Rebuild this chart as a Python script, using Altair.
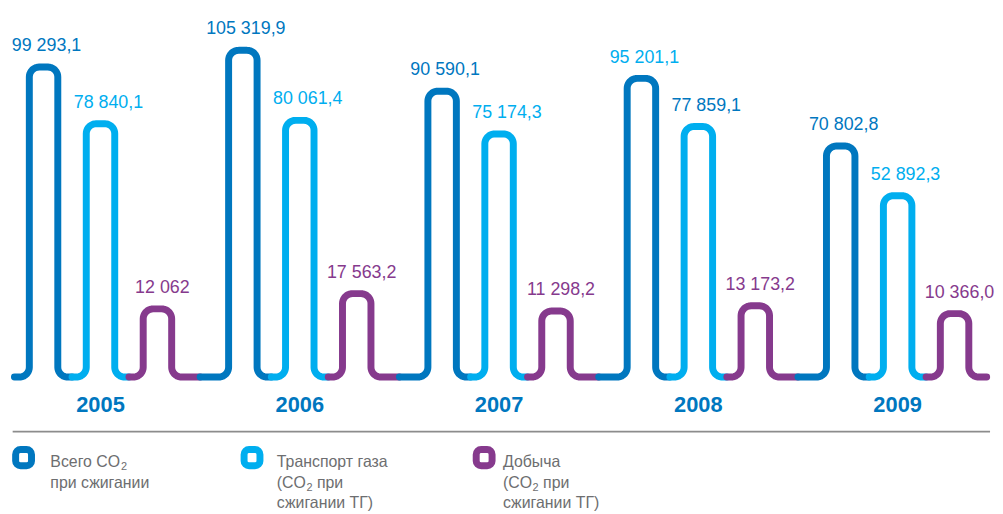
import math
import altair as alt
import pandas as pd

# ---------------- data ----------------
years = ["2005", "2006", "2007", "2008", "2009"]
series_keys = ["total", "transport", "production"]
total = [99293.1, 105319.9, 90590.1, 95201.1, 70802.8]
transport = [78840.1, 80061.4, 75174.3, 77859.1, 52892.3]
production = [12062.0, 17563.2, 11298.2, 13173.2, 10366.0]
labels_total = ["99 293,1", "105 319,9", "90 590,1", "95 201,1", "70 802,8"]
labels_transport = ["78 840,1", "80 061,4", "75 174,3", "77 859,1", "52 892,3"]
labels_production = ["12 062", "17 563,2", "11 298,2", "13 173,2", "10 366,0"]
# legend lines; "_2" marks a subscript 2
legend_lines = [
    ["Всего CO_2", "при сжигании"],
    ["Транспорт газа", "(CO_2 при", "сжигании ТГ)"],
    ["Добыча", "(CO_2 при", "сжигании ТГ)"],
]

values = {"total": total, "transport": transport, "production": production}
texts = {"total": labels_total, "transport": labels_transport, "production": labels_production}

# ---------------- style / layout ----------------
DARK = "#0077BF"
LIGHT = "#00AEEF"
PURPLE = "#863A8D"
COLORS = [DARK, LIGHT, PURPLE]
GRAY_TEXT = "#6d6e70"
# label colours as printed in the original (2008 labels of the two blue series are swapped)
LABEL_COLOR_OVERRIDE = {("2008", "total"): "transport", ("2008", "transport"): "total"}

W, H = 995, 506
SLOT_PX = 28.7        # px per slot (one hump width)
X_ORIGIN = 21.5       # plot px of slot 0
K = 2.795e-3          # px per value unit
ZERO_Y = 335          # plot y of value 0
BASE_LIFT = 35        # px between path bottom and value 0
R = 10                # corner radius px
STUB_START, STUB_END = 5, 8
N_ARC = 10

FONT = "Liberation Sans, Arial, sans-serif"
LEG_FS = 16
SUB_FS = 11
# Arial / Liberation Sans advance widths (em) for the glyphs placed before a subscript
ADV = {"В": 0.667, "с": 0.5, "е": 0.556, "г": 0.365, "о": 0.556, " ": 0.278,
       "C": 0.722, "O": 0.778, "(": 0.333, "2": 0.556}


def sx(px):
    return px / SLOT_PX


def vy(px):
    return px / K


X0 = -X_ORIGIN / SLOT_PX
X1 = X0 + W / SLOT_PX
Y0 = (ZERO_Y - H) / K
Y1 = Y0 + H / K
BASE = -vy(BASE_LIFT)
rx, ry = sx(R), vy(R)


def arc(cx, cy, a0, a1):
    pts = []
    for k in range(N_ARC + 1):
        a = a0 + (a1 - a0) * k / N_ARC
        pts.append((cx + rx * math.cos(a), cy + ry * math.sin(a)))
    return pts


humps = []
for g, yr in enumerate(years):
    for s, key in enumerate(series_keys):
        xl = 7 * g + 2 * s
        humps.append((g, yr, s, key, xl, xl + 1, values[key][g]))

rows = []
order = 0
for h_i, (g, yr, s, key, xl, xr, top) in enumerate(humps):
    pts = []
    if h_i == 0:
        pts.append((xl - rx - sx(STUB_START), BASE))
    else:
        prev_xr = humps[h_i - 1][5]
        pts.append(((prev_xr + xl) / 2, BASE))
    pts += arc(xl - rx, BASE + ry, -math.pi / 2, 0)
    pts += arc(xl + rx, top - ry, math.pi, math.pi / 2)
    pts += arc(xr - rx, top - ry, math.pi / 2, 0)
    pts += arc(xr + rx, BASE + ry, math.pi, 1.5 * math.pi)
    if h_i == len(humps) - 1:
        pts.append((xr + rx + sx(STUB_END), BASE))
    else:
        nxt_xl = humps[h_i + 1][4]
        pts.append(((xr + nxt_xl) / 2, BASE))
    for (px, py) in pts:
        rows.append({"x": px, "y": py, "seg": f"{yr}-{key}", "series": key, "i": order})
        order += 1

path_df = pd.DataFrame(rows)

xs = alt.Scale(domain=[X0, X1])
ys = alt.Scale(domain=[Y0, Y1])
cs = alt.Scale(domain=series_keys, range=COLORS)

line = alt.Chart(path_df).mark_line(
    strokeWidth=7, strokeCap="round", strokeJoin="round"
).encode(
    x=alt.X("x:Q", scale=xs, axis=None),
    y=alt.Y("y:Q", scale=ys, axis=None),
    color=alt.Color("series:N", scale=cs, legend=None),
    detail="seg:N",
    order="i:Q",
)

label_rows = []
for (g, yr, s, key, xl, xr, top) in humps:
    label_rows.append({
        "x": xl + 0.5, "y": top, "text": texts[key][g], "series": key,
        "lcol": LABEL_COLOR_OVERRIDE.get((yr, key), key),
    })
label_df = pd.DataFrame(label_rows)

LABEL_DX = {"total": 3, "transport": 8, "production": 5}
label_layers = []
for key in series_keys:
    label_layers.append(
        alt.Chart(label_df[label_df.series == key]).mark_text(
            font=FONT, fontSize=18,
            baseline="alphabetic", align="center", dy=-16, dx=LABEL_DX[key],
        ).encode(
            x=alt.X("x:Q", scale=xs, axis=None),
            y=alt.Y("y:Q", scale=ys, axis=None),
            text="text:N",
            color=alt.Color("lcol:N", scale=cs, legend=None),
        )
    )

year_df = pd.DataFrame({"x": [7 * g + 2.5 for g in range(len(years))],
                        "y": [BASE] * len(years), "text": years})
year_text = alt.Chart(year_df).mark_text(
    font=FONT, fontSize=22, fontWeight="bold", color=DARK,
    baseline="alphabetic", align="center", dy=35,
).encode(
    x=alt.X("x:Q", scale=xs, axis=None),
    y=alt.Y("y:Q", scale=ys, axis=None),
    text="text:N",
)

one = pd.DataFrame({"a": [0]})
rule = alt.Chart(one).mark_rule(color="#8c8c8c", strokeWidth=2).encode(
    x=alt.value(4.7), x2=alt.value(990), y=alt.value(425)
)

LEG_ICON_X = [7.7, 238.0, 472.0]
LEG_TEXT_X = [42.7, 271, 499]
LEG_Y0 = 461
LEG_LH = 20.5


def text_piece(s, x, y, size, dy=0):
    return alt.Chart(one).mark_text(
        text=s, font=FONT, fontSize=size, color=GRAY_TEXT,
        align="left", baseline="alphabetic", dy=dy,
    ).encode(x=alt.value(x), y=alt.value(y))


legend_layers = []
for k in range(3):
    legend_layers.append(
        alt.Chart(one).mark_rect(
            cornerRadius=5, stroke=COLORS[k], strokeWidth=7, fill="#ffffff"
        ).encode(
            x=alt.value(LEG_ICON_X[k]), x2=alt.value(LEG_ICON_X[k] + 16),
            y=alt.value(443), y2=alt.value(459.5),
        )
    )
    for j, ln in enumerate(legend_lines[k]):
        y = LEG_Y0 + j * LEG_LH
        x = LEG_TEXT_X[k]
        if "_2" in ln:
            before, after = ln.split("_2")
            legend_layers.append(text_piece(before, x, y, LEG_FS))
            wb = sum(ADV[c] for c in before) * LEG_FS
            legend_layers.append(text_piece("2", x + wb + 0.5, y, SUB_FS, dy=3))
            if after.strip():
                xa = x + wb + 0.5 + ADV["2"] * SUB_FS + ADV[" "] * LEG_FS
                legend_layers.append(text_piece(after.strip(), xa, y, LEG_FS))
        else:
            legend_layers.append(text_piece(ln, x, y, LEG_FS))

chart = alt.layer(line, *label_layers, year_text, rule, *legend_layers).properties(
    width=W, height=H, padding=0, autosize=alt.AutoSizeParams(type="none"),
    background="white",
).configure_view(strokeWidth=0)

chart.save("out.html", embed_options={"renderer": "svg", "actions": False})
